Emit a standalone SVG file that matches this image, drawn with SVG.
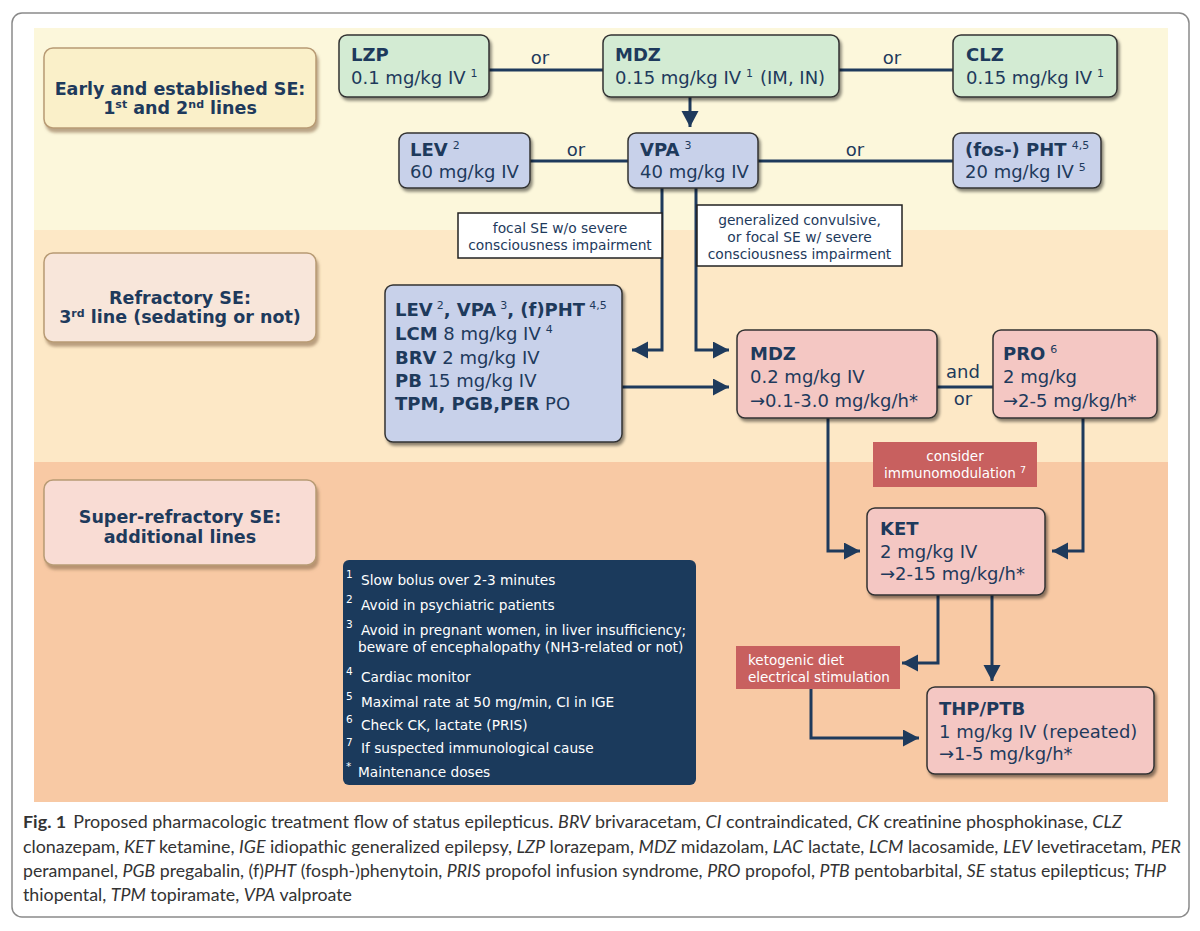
<svg xmlns="http://www.w3.org/2000/svg" width="1200" height="931" viewBox="0 0 1200 931">
<defs>
<style>
.t{font-family:"DejaVu Sans",sans-serif;font-size:18px;fill:#1E3A5C}
.b{font-weight:bold}
.sup{font-size:11px;font-weight:normal}
.lab{font-family:"DejaVu Sans",sans-serif;font-size:17.5px;font-weight:bold;fill:#1E3A5C;text-anchor:middle}
.cond{font-family:"DejaVu Sans",sans-serif;font-size:13.8px;fill:#1E3A5C;text-anchor:middle}
.wt{font-family:"DejaVu Sans",sans-serif;font-size:13.5px;fill:#fff}
.lg{font-family:"DejaVu Sans",sans-serif;font-size:13.7px;fill:#fff}
.lgs{font-family:"DejaVu Sans",sans-serif;font-size:10.5px;fill:#fff}
.cap{font-family:Lato,"Open Sans",sans-serif;font-size:17.5px;fill:#333}
.i{font-style:italic}
.green{fill:#D3EBD3;stroke:#333;stroke-width:1.5}
.blue{fill:#C8D1EA;stroke:#333;stroke-width:1.5}
.pink{fill:#F4C7C3;stroke:#333;stroke-width:1.5}
.red{fill:#C8605F}
.wbox{fill:#fff;stroke:#222;stroke-width:1.5}
.conn{fill:none;stroke:#1E3A5C;stroke-width:3}
</style>
<filter id="nsh" x="-10%" y="-10%" width="125%" height="140%">
<feDropShadow dx="2" dy="3" stdDeviation="1.5" flood-color="#000" flood-opacity="0.45"/>
</filter>
<filter id="lsh" x="-10%" y="-10%" width="125%" height="140%">
<feDropShadow dx="2" dy="4" stdDeviation="1.5" flood-color="#8d6e4f" flood-opacity="0.6"/>
</filter>
<marker id="ah" markerUnits="userSpaceOnUse" markerWidth="17" markerHeight="18" refX="16" refY="8.5" orient="auto">
<path d="M0,0 L16,8.5 L0,17 Z" fill="#1E3A5C"/>
</marker>
</defs>

<rect x="0" y="0" width="1200" height="931" fill="#fff"/>
<rect x="12" y="13" width="1177" height="904" rx="10" fill="#fff" stroke="#8a8a8a" stroke-width="1.5"/>

<!-- bands -->
<rect x="34" y="28" width="1134" height="202" fill="#FCF7DB"/>
<rect x="34" y="230" width="1134" height="232" fill="#FDE8C6"/>
<rect x="34" y="462" width="1134" height="340" fill="#F8C9A4"/>

<!-- left labels -->
<g id="label-early">
<rect x="44" y="48" width="272" height="80" rx="9" fill="#FAF0C9" stroke="#B89B74" stroke-width="1.5" filter="url(#lsh)"/>
<text class="lab" x="180" y="95">Early and established SE:</text>
<text class="lab" x="180" y="114">1<tspan font-size="11" dy="-6">st</tspan><tspan dy="6"> and 2</tspan><tspan font-size="11" dy="-6">nd</tspan><tspan dy="6"> lines</tspan></text>
</g>
<g id="label-refractory">
<rect x="44" y="253" width="272" height="89" rx="9" fill="#F8E6DA" stroke="#B89B74" stroke-width="1.5" filter="url(#lsh)"/>
<text class="lab" x="180" y="304">Refractory SE:</text>
<text class="lab" x="180" y="323">3<tspan font-size="11" dy="-6">rd</tspan><tspan dy="6"> line (sedating or not)</tspan></text>
</g>
<g id="label-super">
<rect x="44" y="480" width="272" height="85" rx="9" fill="#F9DCD4" stroke="#B89B74" stroke-width="1.5" filter="url(#lsh)"/>
<text class="lab" x="180" y="523">Super-refractory SE:</text>
<text class="lab" x="180" y="543">additional lines</text>
</g>

<!-- connectors -->
<g id="connectors">
<path class="conn" d="M489,70 H603"/>
<path class="conn" d="M839,70 H953"/>
<path class="conn" d="M530,161 H628"/>
<path class="conn" d="M758,161 H953"/>
<path class="conn" d="M937,387 H993"/>
<path class="conn" d="M690,97 V127" marker-end="url(#ah)"/>
<path class="conn" d="M662,188 V350 H632" marker-end="url(#ah)"/>
<path class="conn" d="M696,188 V350 H729" marker-end="url(#ah)"/>
<path class="conn" d="M622,387 H729" marker-end="url(#ah)"/>
<path class="conn" d="M828,418 V551 H860" marker-end="url(#ah)"/>
<path class="conn" d="M1083,418 V551 H1052" marker-end="url(#ah)"/>
<path class="conn" d="M938,595 V663 H902" marker-end="url(#ah)"/>
<path class="conn" d="M992,595 V681" marker-end="url(#ah)"/>
<path class="conn" d="M811,689 V738 H919" marker-end="url(#ah)"/>
<text class="t" x="540" y="64" text-anchor="middle">or</text>
<text class="t" x="892" y="64" text-anchor="middle">or</text>
<text class="t" x="576" y="156" text-anchor="middle">or</text>
<text class="t" x="855" y="156" text-anchor="middle">or</text>
<text class="t" x="963" y="378" text-anchor="middle">and</text>
<text class="t" x="963" y="405" text-anchor="middle">or</text>
</g>

<!-- green -->
<g id="node-lzp">
<rect class="green" x="339" y="35" width="150" height="62" rx="8" filter="url(#nsh)"/>
<text class="t b" x="351" y="61">LZP</text>
<text class="t" x="351" y="84">0.1 mg/kg IV<tspan class="sup" dx="5" dy="-7">1</tspan></text>
</g>
<g id="node-mdz1">
<rect class="green" x="603" y="35" width="236" height="62" rx="8" filter="url(#nsh)"/>
<text class="t b" x="615" y="61">MDZ</text>
<text class="t" x="615" y="84">0.15 mg/kg IV<tspan class="sup" dx="5" dy="-7">1</tspan><tspan dx="7" dy="7">(IM, IN)</tspan></text>
</g>
<g id="node-clz">
<rect class="green" x="953" y="35" width="164" height="62" rx="8" filter="url(#nsh)"/>
<text class="t b" x="966" y="61">CLZ</text>
<text class="t" x="966" y="84">0.15 mg/kg IV<tspan class="sup" dx="5" dy="-7">1</tspan></text>
</g>

<!-- blue row -->
<g id="node-lev">
<rect class="blue" x="399" y="133" width="131" height="55" rx="8" filter="url(#nsh)"/>
<text class="t" x="410" y="156"><tspan class="b">LEV</tspan><tspan class="sup" dx="5" dy="-7">2</tspan></text>
<text class="t" x="410" y="178">60 mg/kg IV</text>
</g>
<g id="node-vpa">
<rect class="blue" x="628" y="133" width="130" height="55" rx="8" filter="url(#nsh)"/>
<text class="t" x="640" y="156"><tspan class="b">VPA</tspan><tspan class="sup" dx="5" dy="-7">3</tspan></text>
<text class="t" x="640" y="178">40 mg/kg IV</text>
</g>
<g id="node-pht">
<rect class="blue" x="953" y="133" width="148" height="55" rx="8" filter="url(#nsh)"/>
<text class="t" x="965" y="156"><tspan class="b">(fos-) PHT</tspan><tspan class="sup" dx="5" dy="-7">4,5</tspan></text>
<text class="t" x="965" y="178">20 mg/kg IV<tspan class="sup" dx="5" dy="-7">5</tspan></text>
</g>

<!-- condition boxes -->
<g id="cond-focal">
<rect class="wbox" x="458" y="213" width="204" height="45"/>
<text class="cond" x="560" y="233">focal SE w/o severe</text>
<text class="cond" x="560" y="250">consciousness impairment</text>
</g>
<g id="cond-generalized">
<rect class="wbox" x="697" y="205" width="205" height="61"/>
<text class="cond" x="799.5" y="225">generalized convulsive,</text>
<text class="cond" x="799.5" y="242">or focal SE w/ severe</text>
<text class="cond" x="799.5" y="259">consciousness impairment</text>
</g>

<!-- refractory blue -->
<g id="node-third-line">
<rect class="blue" x="385" y="285" width="237" height="157" rx="8" filter="url(#nsh)"/>
<text class="t" x="395" y="316"><tspan class="b">LEV</tspan><tspan class="sup" dx="4" dy="-7">2</tspan><tspan class="b" dy="7">, VPA</tspan><tspan class="sup" dx="4" dy="-7">3</tspan><tspan class="b" dy="7">, (f)PHT</tspan><tspan class="sup" dx="4" dy="-7">4,5</tspan></text>
<text class="t" x="395" y="340"><tspan class="b">LCM</tspan> 8 mg/kg IV<tspan class="sup" dx="5" dy="-7">4</tspan></text>
<text class="t" x="395" y="364"><tspan class="b">BRV</tspan> 2 mg/kg IV</text>
<text class="t" x="395" y="387"><tspan class="b">PB</tspan> 15 mg/kg IV</text>
<text class="t" x="395" y="410"><tspan class="b">TPM, PGB,PER</tspan> PO</text>
</g>

<!-- pink -->
<g id="node-mdz2">
<rect class="pink" x="737" y="330" width="200" height="88" rx="8" filter="url(#nsh)"/>
<text class="t b" x="750" y="360">MDZ</text>
<text class="t" x="750" y="383">0.2 mg/kg IV</text>
<text class="t" x="750" y="407">→0.1-3.0 mg/kg/h*</text>
</g>
<g id="node-pro">
<rect class="pink" x="993" y="330" width="164" height="88" rx="8" filter="url(#nsh)"/>
<text class="t" x="1003" y="360"><tspan class="b">PRO</tspan><tspan class="sup" dx="5" dy="-7">6</tspan></text>
<text class="t" x="1003" y="383">2 mg/kg</text>
<text class="t" x="1003" y="407">→2-5 mg/kg/h*</text>
</g>
<g id="note-immuno">
<rect class="red" x="873" y="442" width="164" height="45"/>
<text class="wt" x="955" y="461" text-anchor="middle">consider</text>
<text class="wt" x="955" y="478" text-anchor="middle">immunomodulation<tspan font-size="9.5" dx="4" dy="-5">7</tspan></text>
</g>
<g id="node-ket">
<rect class="pink" x="867" y="508" width="178" height="87" rx="8" filter="url(#nsh)"/>
<text class="t b" x="880" y="535">KET</text>
<text class="t" x="880" y="558">2 mg/kg IV</text>
<text class="t" x="880" y="580">→2-15 mg/kg/h*</text>
</g>
<g id="note-keto">
<rect class="red" x="736" y="646" width="164" height="43"/>
<text class="wt" x="748" y="665">ketogenic diet</text>
<text class="wt" x="748" y="682">electrical stimulation</text>
</g>
<g id="node-thp">
<rect class="pink" x="927" y="687" width="227" height="87" rx="8" filter="url(#nsh)"/>
<text class="t b" x="939" y="715">THP/PTB</text>
<text class="t" x="939" y="738">1 mg/kg IV (repeated)</text>
<text class="t" x="939" y="760">→1-5 mg/kg/h*</text>
</g>

<!-- legend -->
<g id="legend">
<rect x="343" y="560" width="353" height="225" rx="6" fill="#1B3A5C"/>
<text class="lgs" x="346" y="578">1</text>
<text class="lg" x="361" y="585">Slow bolus over 2-3 minutes</text>
<text class="lgs" x="346" y="603">2</text>
<text class="lg" x="361" y="610">Avoid in psychiatric patients</text>
<text class="lgs" x="346" y="628">3</text>
<text class="lg" x="361" y="635">Avoid in pregnant women, in liver insufficiency;</text>
<text class="lg" x="358" y="652">beware of encephalopathy (NH3-related or not)</text>
<text class="lgs" x="346" y="675">4</text>
<text class="lg" x="361" y="682">Cardiac monitor</text>
<text class="lgs" x="346" y="700">5</text>
<text class="lg" x="361" y="707">Maximal rate at 50 mg/min, CI in IGE</text>
<text class="lgs" x="346" y="723">6</text>
<text class="lg" x="361" y="730">Check CK, lactate (PRIS)</text>
<text class="lgs" x="346" y="746">7</text>
<text class="lg" x="361" y="753">If suspected immunological cause</text>
<text class="lgs" x="346" y="770">*</text>
<text class="lg" x="358" y="777">Maintenance doses</text>
</g>

<!-- caption -->
<g id="caption">
<text class="cap" x="23" y="828" textLength="1099" lengthAdjust="spacingAndGlyphs"><tspan font-weight="bold">Fig. 1</tspan><tspan dx="7">Proposed pharmacologic treatment flow of status epilepticus. </tspan><tspan class="i">BRV</tspan> brivaracetam, <tspan class="i">CI</tspan> contraindicated, <tspan class="i">CK</tspan> creatinine phosphokinase, <tspan class="i">CLZ</tspan></text>
<text class="cap" x="23" y="853" textLength="1158" lengthAdjust="spacingAndGlyphs">clonazepam, <tspan class="i">KET</tspan> ketamine, <tspan class="i">IGE</tspan> idiopathic generalized epilepsy, <tspan class="i">LZP</tspan> lorazepam, <tspan class="i">MDZ</tspan> midazolam, <tspan class="i">LAC</tspan> lactate, <tspan class="i">LCM</tspan> lacosamide, <tspan class="i">LEV</tspan> levetiracetam, <tspan class="i">PER</tspan></text>
<text class="cap" x="23" y="877" textLength="1143" lengthAdjust="spacingAndGlyphs">perampanel, <tspan class="i">PGB</tspan> pregabalin, (f)<tspan class="i">PHT</tspan> (fosph-)phenytoin, <tspan class="i">PRIS</tspan> propofol infusion syndrome, <tspan class="i">PRO</tspan> propofol, <tspan class="i">PTB</tspan> pentobarbital, <tspan class="i">SE</tspan> status epilepticus; <tspan class="i">THP</tspan></text>
<text class="cap" x="23" y="901" textLength="329" lengthAdjust="spacingAndGlyphs">thiopental, <tspan class="i">TPM</tspan> topiramate, <tspan class="i">VPA</tspan> valproate</text>
</g>
</svg>
